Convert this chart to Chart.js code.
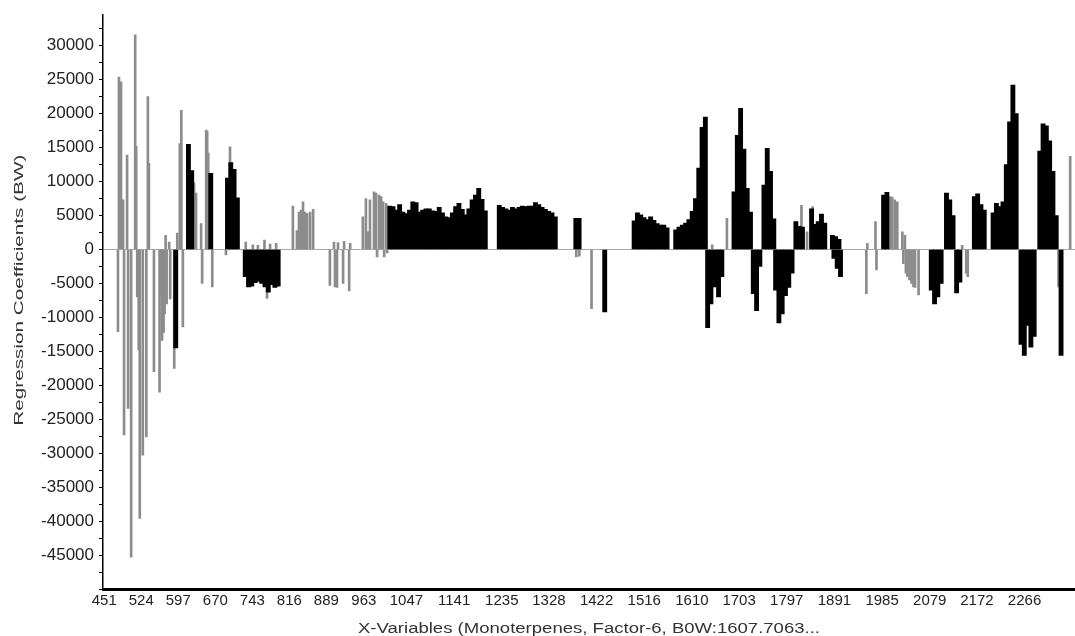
<!DOCTYPE html>
<html>
<head>
<meta charset="utf-8">
<title>Regression Coefficients (BW)</title>
<script src="https://cdn.jsdelivr.net/npm/chart.js@4.4.1/dist/chart.umd.min.js"></script>
<style>
    html, body { margin: 0; padding: 0; background: #ffffff; }
    canvas { display: block; }
</style>
</head>
<body>
<canvas id="coefChart" width="1075" height="636"></canvas>
<script>
// axis labels
var xTickLabels = [451, 524, 597, 670, 743, 816, 889, 963, 1047, 1141, 1235, 1328,
    1422, 1516, 1610, 1703, 1797, 1891, 1985, 2079, 2172, 2266];
var yTickLabels = [30000, 25000, 20000, 15000, 10000, 5000, 0, -5000, -10000, -15000,
    -20000, -25000, -30000, -35000, -40000, -45000];

var yTitle = "Regression Coefficients (BW)";
var xTitle = "X-Variables (Monoterpenes, Factor-6, B0W:1607.7063...";

// single variables (thin grey lines)
var lineWavelengths = [478, 480, 484, 488, 490, 496, 498, 504, 512, 514, 516, 519, 521, 527,
    534, 537, 539, 549, 560, 563, 565, 568, 570, 572, 574, 579, 581, 589, 595, 600, 603, 606,
    628, 632, 642, 644, 652, 654, 656, 664, 691, 699, 730, 744, 754, 767, 772, 778, 790,
    823, 831, 835, 839, 843, 847, 851, 857, 863, 896, 904, 906, 910, 912, 922, 924, 934, 936,
    961, 967, 971, 975, 983, 987, 989, 993, 997, 1001, 1003, 1007, 1009,
    1382, 1388, 1412, 1650, 1679, 1826, 1837, 1848, 1954, 1956, 1972, 1974,
    2000, 2005, 2010, 2015, 2025, 2027, 2030, 2032, 2035, 2039, 2043, 2047, 2050, 2057,
    2143, 2151, 2154, 2333, 2356];
var lineCoefficients = [-12100, 25400, 24700, 7300, -27300, 13900, -23400, -45300, 31600, 15200,
    -7000, -14800, -39600, -30300, -27600, 22500, 12700, -18000, -21000, -6800, -13400, -12200,
    -9500, 2100, -8000, 1100, -7300, -17500, 2400, 15600, 20500, -11400,
    9800, 8300, 3800, -5000, 17600, 17400, 14200, -5500, -800, 15100, 1100, 700, 600, 1400, -7200, 800, 900,
    6400, 2800, 5500, 5800, 7000, 5500, 5300, 5500, 5900, -5300, 1100, -5500, -5600, 1000, -5000, 1200, -6100, 900,
    4800, 7500, 2600, 7300, 8500, 8300, -1100, 8000, 7800, 7000, -1100, 6800, -500,
    -1100, -1000, -8700, 700, 4600, 6500, 2600, 6300, -6500, 900, 4100, -3000,
    7800, 7700, 7300, 7000, 2600, -2100, 2100, -3500, -4000, -4500, -5000, -5500, -5600, -6700,
    600, -3500, -4000, -5500, 13700];

// runs of neighbouring variables (solid black), BLOCK_STEP nm apart
var BLOCK_STEP = 6.5;
var blockStart = [592, 617, 661, 694, 729, 1014, 1230, 1381, 1438, 1496, 1578, 1641, 1656, 1693,
    1731, 1752, 1775, 1815, 1846, 1887, 1890, 1988, 2082, 2112, 2132, 2167, 2204, 2259, 2296, 2338];
var blockCoefficients = [
    [-14500],
    [15500, 11600],
    [11200],
    [10500, 12800, 11800, 7600],
    [-4000, -5500, -5400, -4900, -4700, -5000, -5500, -6300, -5200, -5600, -5400],
    [6400, 6300, 5800, 6600, 5500, 5300, 5800, 7000, 6900, 5500, 5800, 6000, 6000, 5700, 5600,
        6200, 5400, 4800, 4700, 5400, 6300, 6800, 5900, 5100, 6000, 7300, 8000, 9000, 7400, 5700],
    [6500, 6200, 6000, 5800, 6200, 6000, 6200, 6400, 6300, 6400, 6400, 6900, 6600, 6200, 5900, 5600, 5400, 4800],
    [4600, 4600],
    [-9200],
    [4200, 5400, 5100, 4700, 4400, 4800, 4300, 3800, 3600, 3600, 3200],
    [2900, 3300, 3600, 3900, 4400, 5600, 7500, 12000, 18000, 19500],
    [-11500, -8000],
    [-5500, -7000, -4000],
    [8500, 16800, 20800, 14800, 9000, 5500],
    [-6500, -9000, -2500],
    [9500, 14900, 11500, 4500],
    [-6000, -10800, -9500, -6800, -5600, -3500],
    [4100, 3400, 3300],
    [6000, 3700, 4100, 5200, 3900],
    [2100, 1900, 1500],
    [-1300, -2800, -4000],
    [8000, 8400],
    [-6000, -8000, -7000, -5000],
    [8300, 7300, 5000],
    [-6400, -4800],
    [7800, 8200, 6600, 5800],
    [5400, 6800, 6300, 7000, 12500, 18800, 24200, 20000],
    [-14000, -15600, -11200, -14400, -12800],
    [14500, 18500, 18200, 16000, 11500, 5000],
    [-15600]
];

var FONT = "'Liberation Sans', Arial, sans-serif";

function buildLines() {
    return lineWavelengths.map(function(wl, i) {
        return { x: wl, y: lineCoefficients[i] };
    });
}

function buildBlocks() {
    var pts = [];
    blockStart.forEach(function(start, i) {
        blockCoefficients[i].forEach(function(v, j) {
            pts.push({ x: start + j * BLOCK_STEP, y: v });
        });
    });
    pts.sort(function(a, b) { return a.x - b.x; });
    return pts;
}

// draws text squeezed/stretched to a given length
function stretchText(ctx, text, cx, cy, length, angle, font, color) {
    ctx.save();
    ctx.font = font;
    ctx.fillStyle = color;
    ctx.textAlign = 'center';
    ctx.textBaseline = 'middle';
    var w = ctx.measureText(text).width;
    ctx.translate(cx, cy);
    ctx.rotate(angle);
    ctx.scale(length / w, 1);
    ctx.fillText(text, 0, 0);
    ctx.restore();
}

var axisTitles = {
    id: 'axisTitles',
    afterDraw: function(chart) {
        var a = chart.chartArea;
        stretchText(chart.ctx, yTitle, 19, a.top + 275, 271, -Math.PI / 2, '13px ' + FONT, '#333');
        stretchText(chart.ctx, xTitle, (a.left + a.right) / 2, a.bottom + 40, 462, 0, '14px ' + FONT, '#333');
    }
};

var ctx = document.getElementById('coefChart').getContext('2d');
var myChart = new Chart(ctx, {
    type: 'bar',
    data: {
        datasets: [
            {
                label: 'blocks',
                data: buildBlocks(),
                backgroundColor: '#000000',
                borderWidth: 0,
                barThickness: 4.2,
                stack: 'all'
            },
            {
                label: 'single',
                data: buildLines(),
                backgroundColor: '#8c8c8c',
                borderWidth: 0,
                barThickness: 2,
                stack: 'all'
            }
        ]
    },
    options: {
        responsive: false,
        animation: false,
        layout: { padding: { top: 15, right: 0, bottom: 0, left: 0 } },
        plugins: {
            legend: { display: false },
            tooltip: { enabled: false }
        },
        scales: {
            x: {
                type: 'linear',
                min: 448.5,
                max: 2365.5,
                offset: false,
                grid: { display: false, drawTicks: false, offset: false },
                border: { display: true, color: '#000', width: 3 },
                afterBuildTicks: function(scale) {
                    scale.ticks = xTickLabels.map(function(v) { return { value: v }; });
                },
                afterFit: function(scale) { scale.height = 47; },
                ticks: {
                    autoSkip: false,
                    maxRotation: 0,
                    padding: 3,
                    color: '#222',
                    font: { family: FONT, size: 15 },
                    callback: function(v) { return String(v); }
                }
            },
            y: {
                type: 'linear',
                min: -50000,
                max: 34500,
                stacked: false,
                grid: {
                    color: function(c) {
                        return (c.tick && c.tick.value === 0) ? '#a8a8a8' : 'rgba(0,0,0,0)';
                    },
                    tickColor: '#000',
                    tickLength: 4,
                    lineWidth: 1
                },
                border: { display: true, color: '#000', width: 1.5 },
                afterBuildTicks: function(scale) {
                    var t = [];
                    for (var v = -50000; v <= 32500; v += 2500) t.push({ value: v });
                    scale.ticks = t;
                },
                afterFit: function(scale) { scale.width = 103; },
                ticks: {
                    autoSkip: false,
                    padding: 5,
                    color: '#222',
                    font: { family: FONT, size: 17 },
                    callback: function(v) { return yTickLabels.indexOf(v) >= 0 ? String(v) : ''; }
                }
            }
        }
    },
    plugins: [axisTitles]
});
</script>
</body>
</html>
